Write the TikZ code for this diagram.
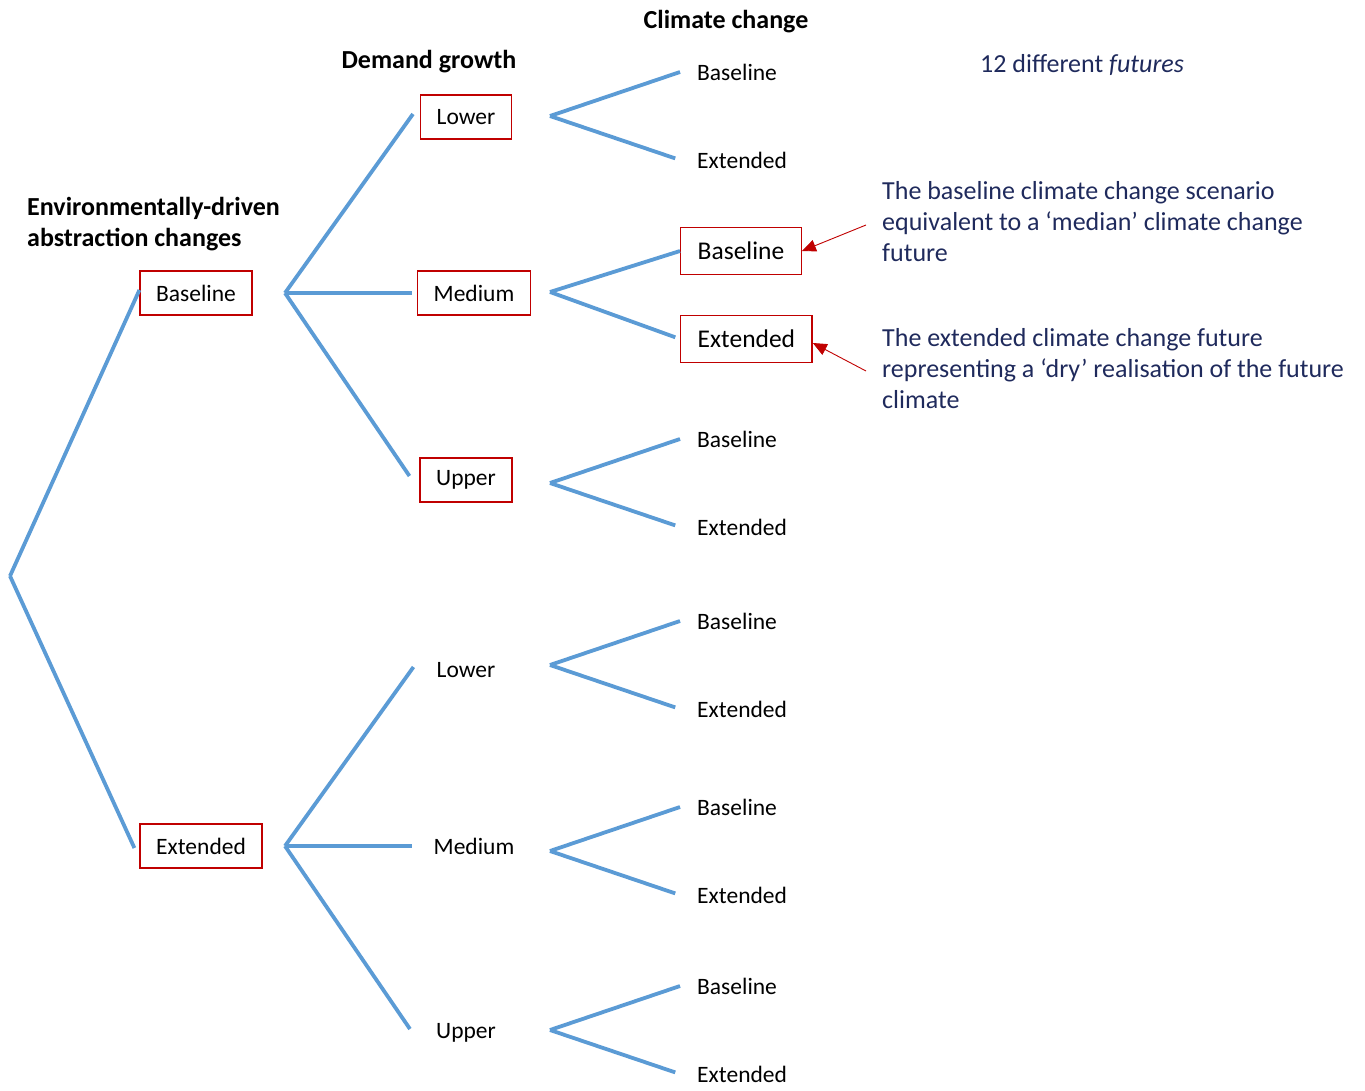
\documentclass[tikz,border=0pt]{standalone}
\usepackage{fontspec}
\setmainfont{Carlito}
\usetikzlibrary{arrows.meta}
\definecolor{branchblue}{HTML}{5B9BD5}
\definecolor{boxred}{HTML}{C00000}
\definecolor{notenavy}{HTML}{1F2A5C}
\tikzset{
  branch/.style={draw=branchblue, line width=3.8pt},
  optbox/.style={draw=boxred, line width=1.4pt, inner xsep=16pt, inner ysep=0pt, minimum height=44pt},
  optlabel/.style={inner xsep=16pt, inner ysep=0pt, minimum height=44pt},
  climbox/.style={optbox, inner xsep=17pt, minimum height=47pt, yshift=-3pt, font=\fontsize{25.5}{30}\selectfont},
  climlabel/.style={optlabel, inner xsep=17pt},
  heading/.style={inner sep=0pt, font=\fontsize{26}{31}\selectfont\bfseries},
  note/.style={text=notenavy, align=left, inner sep=0pt, font=\fontsize{26}{31}\selectfont},
  pointer/.style={draw=boxred, line width=0.9pt, -{Triangle[length=14pt,width=12pt]}}
}
% #1 env node, #2 y, #3 prefix, #4 style
\newcommand{\demandfork}[4]{
  \coordinate (#1-fork) at (285,#2);
  \node [#4] (#3-low) at (466,{#2-176}) {Lower};
  \node [#4] (#3-med) at (474,#2) {Medium};
  \node [#4] (#3-up) at (466,{#2+187}) {Upper};
  \draw [branch] (#1-fork) -- ([xshift=-7pt,yshift=3pt]#3-low.west);
  \draw [branch] (#1-fork) -- ([xshift=-5pt]#3-med.west);
  \draw [branch] (#1-fork) -- ([xshift=-10pt,yshift=4pt]#3-up.west);
}
% #1 fork name, #2 fork y, #3 style
\newcommand{\climfork}[3]{
  \coordinate (#1) at (550,#2);
  \node [#3, anchor=west] (#1-base) at (680,{#2-44}) {Baseline};
  \node [#3, anchor=west] (#1-ext) at (680,{#2+44}) {Extended};
  \draw [branch] (#1) -- (#1-base.west);
  \draw [branch, shorten >=5pt] (#1) -- (#1-ext.west);
}

\begin{document}
\begin{tikzpicture}[x=1pt, y=-1pt, font=\fontsize{23.5}{28}\selectfont]
\useasboundingbox (0,0) rectangle (1365,1090);
% headings
\node [heading] (clim-head) at (726,22) {Climate change};
\node [heading] (demand-head) at (429,62) {Demand growth};
\node [heading, align=left, anchor=west] (env-head) at (27,224) {Environmentally-driven\\abstraction changes};
\node [note, anchor=west] (futures) at (980,65) {12 different \textit{futures}};
% abstraction changes
\coordinate (root) at (10,576);
\node [optbox] (env-base) at (196,293) {Baseline};
\node [optbox] (env-ext) at (201,846) {Extended};
\draw [branch] (root) -- ([yshift=3pt]env-base.west);
\draw [branch] (root) -- ([xshift=-5pt,yshift=-2pt]env-ext.west);
% demand growth
\demandfork{env-base}{293}{bl}{optbox}
\demandfork{env-ext}{846}{ex}{optlabel}
% climate change
\climfork{bl-low-fork}{116}{climlabel}
\climfork{bl-med-fork}{292}{climbox}
\climfork{bl-up-fork}{483}{climlabel}
\climfork{ex-low-fork}{665}{climlabel}
\climfork{ex-med-fork}{851}{climlabel}
\climfork{ex-up-fork}{1030}{climlabel}
% notes
\node [note, anchor=north west] (note-base) at (882,181) {The baseline climate change scenario\\equivalent to a ‘median’ climate change\\future};
\node [note, anchor=north west] (note-ext) at (882,328) {The extended climate change future\\representing a ‘dry’ realisation of the future\\climate};
\coordinate (note-base-tail) at (866,225);
\coordinate (note-ext-tail) at (866,371);
\draw [pointer] (note-base-tail) -- (bl-med-fork-base.east);
\draw [pointer] (note-ext-tail) -- ([yshift=-4pt]bl-med-fork-ext.east);
\end{tikzpicture}
\end{document}
